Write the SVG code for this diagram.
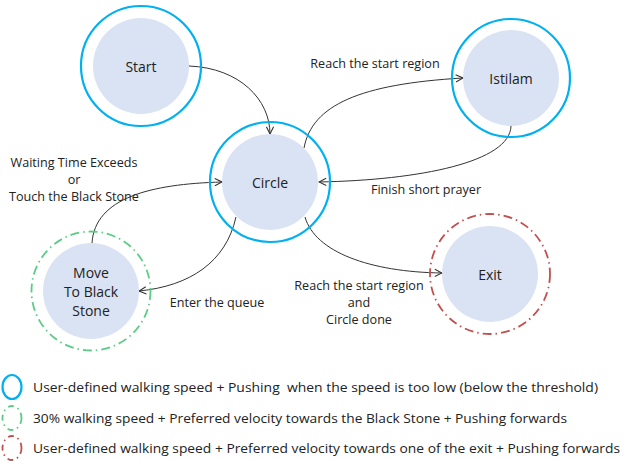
<svg xmlns="http://www.w3.org/2000/svg" width="630" height="461" viewBox="0 0 630 461">
<style>
.in{fill:#DAE3F3;stroke:none}
.blue{fill:none;stroke:#00B0F0;stroke-width:2.2}
.green{fill:none;stroke:#5CCB85;stroke-width:1.8;stroke-dasharray:9 4 1.5 4}
.red{fill:none;stroke:#C0504D;stroke-width:1.8;stroke-dasharray:9 4 1.5 4}
.nt{font-family:"Open Sans","Liberation Sans",sans-serif;font-size:14px;fill:#222;text-anchor:middle;dominant-baseline:central}
.lt{font-family:"Open Sans","Liberation Sans",sans-serif;font-size:12.6px;fill:#222;text-anchor:middle;dominant-baseline:central}
.gt{font-family:"Open Sans","Liberation Sans",sans-serif;font-size:13.5px;fill:#222;dominant-baseline:central}
.c{fill:none;stroke:#333;stroke-width:1;marker-end:url(#ar)}
</style>
<defs>
<marker id="ar" viewBox="0 0 10 10" refX="9" refY="5" markerWidth="9" markerHeight="9" markerUnits="userSpaceOnUse" orient="auto">
<path d="M1,1 L9,5 L1,9" fill="none" stroke="#333" stroke-width="1.2"/>
</marker>
</defs>
<rect width="630" height="461" fill="#fff"/>
<g id="connectors">
<path class="c" d="M189,66 C240,68 270,100 270,134"/>
<path class="c" d="M304,148 C312,105 360,84 463,78"/>
<path class="c" d="M511,126 C510,162 420,180 319,182"/>
<path class="c" d="M92,243 C95,198 150,184 222,182"/>
<path class="c" d="M236,217 C226,262 190,286 139,291"/>
<path class="c" d="M305,217 C315,252 370,272 442,273"/>
</g>
<g id="labels">
<text class="lt" x="375" y="63">Reach the start region</text>
<text class="lt" x="426" y="189">Finish short prayer</text>
<text class="lt" x="74" y="162">Waiting Time Exceeds</text>
<text class="lt" x="74" y="179">or</text>
<text class="lt" x="74" y="196">Touch the Black Stone</text>
<text class="lt" x="217" y="302">Enter the queue</text>
<text class="lt" x="359" y="285">Reach the start region</text>
<text class="lt" x="359" y="302">and</text>
<text class="lt" x="359" y="319">Circle done</text>
</g>
<g id="start">
<circle class="blue" cx="141" cy="66" r="60"/>
<circle class="in" cx="141" cy="66" r="48"/>
<text class="nt" x="141" y="66">Start</text>
</g>
<g id="circle">
<circle class="blue" cx="270" cy="182" r="60"/>
<circle class="in" cx="270" cy="182" r="48"/>
<text class="nt" x="270" y="182">Circle</text>
</g>
<g id="istilam">
<circle class="blue" cx="511" cy="78" r="59"/>
<circle class="in" cx="511" cy="78" r="48"/>
<text class="nt" x="511" y="78">Istilam</text>
</g>
<g id="move">
<circle class="green" cx="91" cy="291" r="59.5"/>
<circle class="in" cx="91" cy="291" r="48"/>
<text class="nt" x="91" y="272">Move</text>
<text class="nt" x="91" y="291">To Black</text>
<text class="nt" x="91" y="310">Stone</text>
</g>
<g id="exit">
<circle class="red" cx="490" cy="274" r="60"/>
<circle class="in" cx="490" cy="274" r="48"/>
<text class="nt" x="490" y="274">Exit</text>
</g>
<g id="legend">
<ellipse class="blue" cx="12" cy="387" rx="9.5" ry="12"/>
<text class="gt" x="33" y="387" textLength="565" lengthAdjust="spacingAndGlyphs" xml:space="preserve">User-defined walking speed + Pushing  when the speed is too low (below the threshold)</text>
<ellipse class="green" cx="12" cy="418" rx="9.5" ry="12" style="stroke-dasharray:6 4 1.5 4"/>
<text class="gt" x="33" y="418" textLength="534" lengthAdjust="spacingAndGlyphs">30% walking speed + Preferred velocity towards the Black Stone + Pushing forwards</text>
<ellipse class="red" cx="12" cy="448" rx="9.5" ry="12" style="stroke-dasharray:6 4 1.5 4"/>
<text class="gt" x="33" y="448" textLength="587" lengthAdjust="spacingAndGlyphs">User-defined walking speed + Preferred velocity towards one of the exit + Pushing forwards</text>
</g>
</svg>
